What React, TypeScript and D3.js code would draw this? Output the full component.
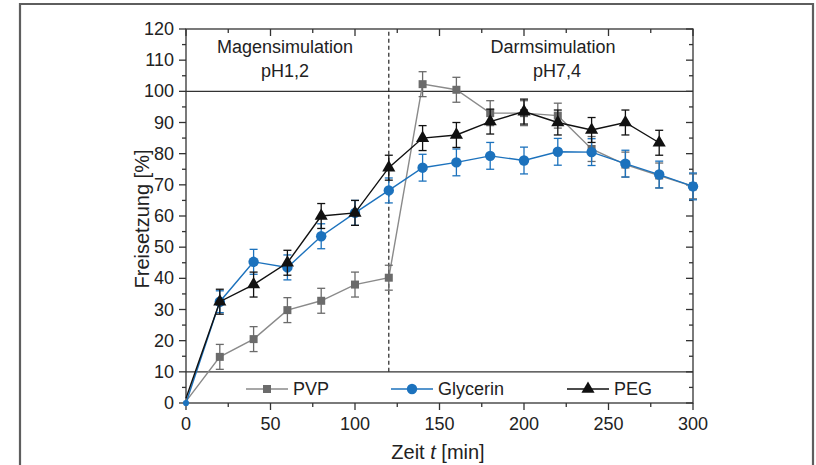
import * as d3 from "d3";

// Zeit in min
const times = [0, 20, 40, 60, 80, 100, 120, 140, 160, 180, 200, 220, 240, 260, 280, 300];

const pvp = [0.5, 14.8, 20.5, 29.8, 32.8, 38, 40.2, 102.3, 100.5, 93, 93, 92.2, 81.5, 76.5, 73, 69.5];
const pvpErr = [0, 4, 4, 4, 4, 4, 4, 4, 4, 4, 4, 4, 4, 4, 4, 4];

const glycerin = [0, 32.5, 45.3, 43.5, 53.5, 61, 68.2, 75.5, 77.2, 79.3, 77.8, 80.6, 80.5, 76.8, 73.3, 69.5];
const glycerinErr = [0, 3.5, 4, 4, 4, 4, 4, 4.3, 4.3, 4.3, 4.3, 4.3, 4.3, 4.3, 4.3, 4.3];

const peg = [1.5, 32.5, 38, 45, 60, 61, 75.5, 85, 86, 90.3, 93.5, 90, 87.6, 90, 83.5];
const pegErr = [0, 4, 4, 4, 4, 4, 4, 4, 4, 4, 4, 4, 4, 4, 4];

const xTicks = [0, 50, 100, 150, 200, 250, 300];
const yTicks = [0, 10, 20, 30, 40, 50, 60, 70, 80, 90, 100, 110, 120];

const legendNames = ["PVP", "Glycerin", "PEG"];

const font = "'Liberation Sans', Arial, sans-serif";
const fs = 18;
const titleFs = 20;

const App = () => {
  const width = 816;
  const height = 465;

  const x = d3.scaleLinear().domain([0, 300]).range([186, 693]);
  const y = d3.scaleLinear().domain([0, 120]).range([403, 29]);

  const series = [
    { name: legendNames[0], vals: pvp, err: pvpErr, color: "#6b6b6b", line: "#8a8a8a", sym: d3.symbolSquare, size: 64, first: false },
    { name: legendNames[1], vals: glycerin, err: glycerinErr, color: "#1c72bd", line: "#1c72bd", sym: d3.symbolCircle, size: 85, first: true },
    { name: legendNames[2], vals: peg, err: pegErr, color: "#111111", line: "#111111", sym: d3.symbolTriangle, size: 75, first: false },
  ];

  const line = d3
    .line<number>()
    .x((d, i) => x(times[i]))
    .y((d) => y(d));

  const minorX = d3.range(0, 301, 25);
  const minorY = d3.range(0, 121, 5);

  const legendX = [267, 412, 588];

  return (
    <svg
      width={width}
      height={height}
      style={{ position: "absolute", left: 0, top: 0, fontFamily: font }}
    >
      <rect x={0} y={0} width={width} height={height} fill="#fff" />
      {/* Rahmen */}
      <path d={`M20,${height + 5}V4H813V${height + 5}`} fill="none" stroke="#5e5e5e" strokeWidth={2.2} />

      {/* Achsenrahmen */}
      <rect x={x(0)} y={y(120)} width={x(300) - x(0)} height={y(0) - y(120)} fill="none" stroke="#333" strokeWidth={1.3} />
      <line x1={x(0)} x2={x(300)} y1={y(100)} y2={y(100)} stroke="#333" strokeWidth={1.3} />
      <line x1={x(0)} x2={x(300)} y1={y(10)} y2={y(10)} stroke="#333" strokeWidth={1.3} />
      <line x1={x(120)} x2={x(120)} y1={y(10)} y2={y(120)} stroke="#222" strokeWidth={1.2} strokeDasharray="4,3" />

      {/* ticks */}
      {minorX.map((t) => {
        const major = t % 50 === 0;
        const l = major ? 7 : 4;
        return (
          <g key={"tx" + t} stroke="#333" strokeWidth={1.3}>
            <line x1={x(t)} x2={x(t)} y1={y(0)} y2={y(0) + l} />
            <line x1={x(t)} x2={x(t)} y1={y(120)} y2={y(120) + l} />
          </g>
        );
      })}
      {minorY.map((t) => {
        const major = t % 10 === 0;
        const l = major ? 7 : 4;
        return (
          <g key={"ty" + t} stroke="#333" strokeWidth={1.3}>
            <line x1={x(0) - l} x2={x(0)} y1={y(t)} y2={y(t)} />
            <line x1={x(300) - l} x2={x(300)} y1={y(t)} y2={y(t)} />
          </g>
        );
      })}
      {xTicks.map((t) => (
        <text key={"lx" + t} x={x(t)} y={430} textAnchor="middle" fontSize={fs} fill="#222">
          {t}
        </text>
      ))}
      {yTicks.map((t) => (
        <text key={"ly" + t} x={174} y={y(t) + 6} textAnchor="end" fontSize={fs} fill="#222">
          {t}
        </text>
      ))}

      {/* Achsentitel */}
      <text x={438} y={459} textAnchor="middle" fontSize={titleFs} fill="#222">
        Zeit <tspan fontStyle="italic">t</tspan> [min]
      </text>
      <text
        transform={`translate(149,219) rotate(-90)`}
        textAnchor="middle"
        fontSize={titleFs}
        fill="#222"
      >
        Freisetzung [%]
      </text>

      {/* Beschriftung */}
      <g fontSize={fs} fill="#222" textAnchor="middle">
        <text x={285} y={53}>Magensimulation</text>
        <text x={285} y={77}>pH1,2</text>
        <text x={553} y={53}>Darmsimulation</text>
        <text x={557} y={77}>pH7,4</text>
      </g>

      {/* Daten */}
      {series.map((s) => (
        <g key={s.name}>
          <path d={line(s.vals) ?? ""} fill="none" stroke={s.line} strokeWidth={1.4} />
          {s.vals.map((v, i) =>
            s.err[i] > 0 ? (
              <g key={i} stroke={s.color} strokeWidth={1.3}>
                <line x1={x(times[i])} x2={x(times[i])} y1={y(v - s.err[i])} y2={y(v + s.err[i])} />
                <line x1={x(times[i]) - 4} x2={x(times[i]) + 4} y1={y(v - s.err[i])} y2={y(v - s.err[i])} />
                <line x1={x(times[i]) - 4} x2={x(times[i]) + 4} y1={y(v + s.err[i])} y2={y(v + s.err[i])} />
              </g>
            ) : null
          )}
          {s.vals.map((v, i) =>
            i === 0 && !s.first ? null : (
              <path
                key={"m" + i}
                transform={`translate(${x(times[i])},${y(v)})`}
                d={d3.symbol(s.sym, i === 0 ? 30 : s.size)() ?? ""}
                fill={s.color}
              />
            )
          )}
        </g>
      ))}

      {/* Legende */}
      {series.map((s, i) => {
        const cx = legendX[i];
        const cy = 389;
        return (
          <g key={"leg" + s.name}>
            <line x1={cx - 21} x2={cx + 21} y1={cy} y2={cy} stroke={s.line} strokeWidth={1.4} />
            <path transform={`translate(${cx},${cy})`} d={d3.symbol(s.sym, s.size)() ?? ""} fill={s.color} />
            <text x={cx + 26} y={cy + 6} fontSize={fs} fill="#222">
              {s.name}
            </text>
          </g>
        );
      })}
    </svg>
  );
};

export default App;
